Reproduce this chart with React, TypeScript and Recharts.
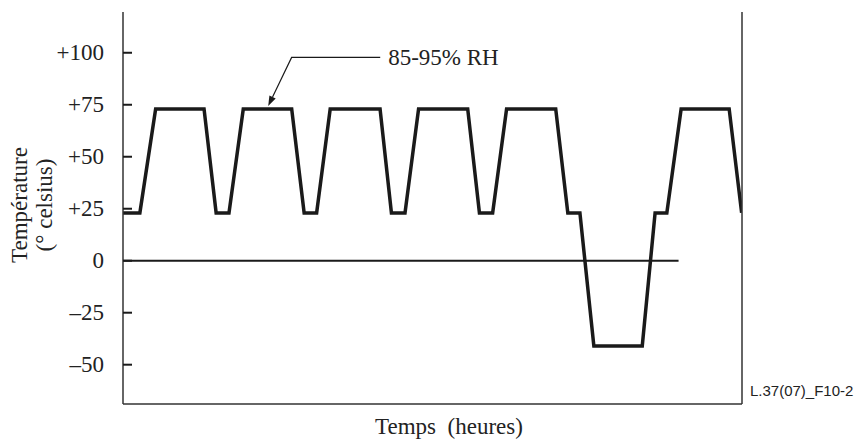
import { LineChart, Line, XAxis, YAxis, ReferenceLine, ReferenceDot } from 'recharts';

// Temperature cycle (hours, degrees C)
const timeHours = [0, 4.6, 8.9, 22.1, 25.4, 28.9, 32.8, 46.0, 49.4, 52.8, 56.5, 70.1, 73.2, 76.9, 80.6, 94.0, 97.2, 100.8, 104.6, 118.0, 121.3, 124.6, 128.4, 141.6, 145.1, 148.3, 152.2, 165.3, 168.7];
const temperature = [23, 23, 73, 73, 23, 23, 73, 73, 23, 23, 73, 73, 23, 23, 73, 73, 23, 23, 73, 73, 23, 23, -41, -41, 23, 23, 73, 73, 23];

const yTicks = [-50, -25, 0, 25, 50, 75, 100];
const yTickLabels = ['–50', '–25', '0', '+25', '+50', '+75', '+100'];
const xDomain = [0, 168.8];
const yDomain = [-68.9, 119.6];
const zeroLineEnd = 151.5;
const humidityPoint = { t: 39.6, temp: 73, text: '85-95% RH' };

const data = timeHours.map((t, i) => ({ t, temp: temperature[i] }));

const SERIF = '"Liberation Serif", "Times New Roman", serif';
const INK = '#1a1a1a';
const FRAME = '#333';
const TICK_GAP = 19;

const YTick = (props: any) => {
    const { x, y, payload } = props;
    const idx = yTicks.indexOf(payload.value);
    return (
        <g>
            <line x1={x + TICK_GAP} x2={x + TICK_GAP + 9} y1={y} y2={y} stroke={INK} strokeWidth={2} />
            <text x={x} y={y} textAnchor="end" dominantBaseline="central" fontFamily={SERIF} fontSize={23} fill="#222">
                {yTickLabels[idx]}
            </text>
        </g>
    );
};

const YTitle = (props: any) => {
    const { x, y, height } = props.viewBox;
    const cy = y + height / 2 - 3;
    return (
        <g fontFamily={SERIF} fontSize={23} fill="#222">
            <text x={x + 19} y={cy} textAnchor="middle" dominantBaseline="central" transform={`rotate(-90 ${x + 19} ${cy})`}>Température</text>
            <text x={x + 44} y={cy} textAnchor="middle" dominantBaseline="central" transform={`rotate(-90 ${x + 44} ${cy})`}>(° celsius)</text>
        </g>
    );
};

const XTitle = (props: any) => {
    const { x, y, width } = props.viewBox;
    return (
        <text x={x + width / 2 + 16.5} y={y + 22} textAnchor="middle" dominantBaseline="central" fontFamily={SERIF} fontSize={23} fill="#222" xmlSpace="preserve">
            Temps{'\u00a0\u00a0'}(heures)
        </text>
    );
};

const FigureRef = (props: any) => {
    const { x, y, height } = props.viewBox;
    return (
        <text x={x + 8} y={y + height - 8} fontFamily='"Liberation Sans", Arial, sans-serif' fontSize={15} fill="#222">
            L.37(07)_F10-2
        </text>
    );
};

const HumidityNote = (props: any) => {
    const { x, y } = props.viewBox;
    const tipX = x;
    const tipY = y - 3;
    const kneeX = x + 23.4;
    const kneeY = y - 51.5;
    const dx = tipX - kneeX;
    const dy = tipY - kneeY;
    const len = Math.sqrt(dx * dx + dy * dy);
    const ux = dx / len;
    const uy = dy / len;
    const bx = tipX - ux * 10;
    const by = tipY - uy * 10;
    return (
        <g>
            <polyline points={`${bx},${by} ${kneeX},${kneeY} ${x + 112},${kneeY}`} fill="none" stroke={INK} strokeWidth={1.2} />
            <polygon points={`${tipX},${tipY} ${bx - uy * 3.5},${by + ux * 3.5} ${bx + uy * 3.5},${by - ux * 3.5}`} fill={INK} />
            <text x={x + 120} y={kneeY} dominantBaseline="central" fontFamily={SERIF} fontSize={23} fill="#222">
                {humidityPoint.text}
            </text>
        </g>
    );
};

export default function App() {
    return (
        <div style={{ position: 'absolute', left: 0, top: 0, background: '#fff' }}>
            <LineChart width={860} height={441} data={data} margin={{ top: 12, right: 0, bottom: 0, left: 0 }}>
                <XAxis dataKey="t" type="number" domain={xDomain} allowDataOverflow height={37}
                    tick={false} tickLine={false} axisLine={{ stroke: FRAME, strokeWidth: 1.5 }} label={<XTitle />} />
                <XAxis xAxisId="top" orientation="top" type="number" domain={xDomain} height={0}
                    tick={false} tickLine={false} axisLine={{ stroke: FRAME, strokeWidth: 1.5 }} />
                <YAxis type="number" domain={yDomain} allowDataOverflow ticks={yTicks} width={123}
                    tickSize={TICK_GAP} tickMargin={0} tickLine={false} tick={<YTick />} interval={0}
                    axisLine={{ stroke: FRAME, strokeWidth: 1.5 }} label={<YTitle />} />
                <YAxis yAxisId="right" orientation="right" type="number" domain={yDomain} width={118}
                    tick={false} tickLine={false} axisLine={{ stroke: FRAME, strokeWidth: 1.5 }} label={<FigureRef />} />
                <ReferenceLine segment={[{ x: 0, y: 0 }, { x: zeroLineEnd, y: 0 }]} stroke={INK} strokeWidth={2} />
                <Line type="linear" dataKey="temp" stroke={INK} strokeWidth={3.5} dot={false}
                    strokeLinejoin="miter" isAnimationActive={false} />
                <ReferenceDot x={humidityPoint.t} y={humidityPoint.temp} r={0} fill="none" stroke="none" label={<HumidityNote />} />
            </LineChart>
        </div>
    );
}
